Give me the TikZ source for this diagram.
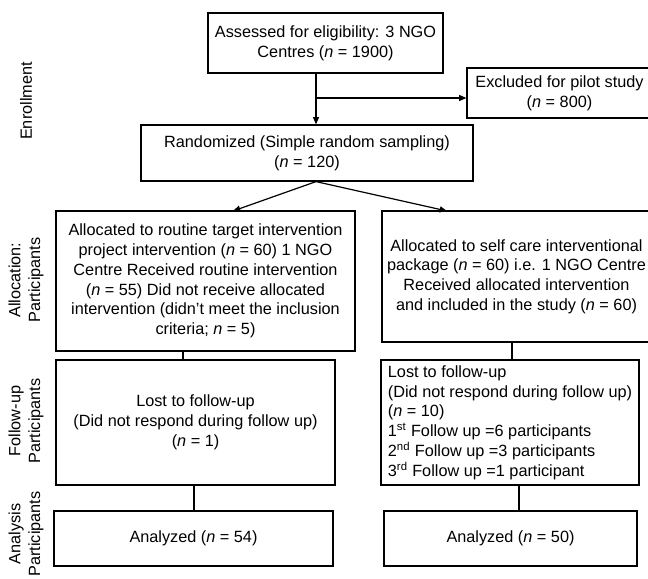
\documentclass[tikz,border=0pt]{standalone}
\usepackage{fontspec}
\setmainfont{Liberation Sans}
\usetikzlibrary{arrows.meta}
\tikzset{
  bx/.style={draw, line width=0.9pt, inner sep=0pt, align=center,
    font=\fontsize{12.2}{14.8}\selectfont},
  lbl/.style={rotate=90, inner sep=0pt, align=center,
    font=\fontsize{12.2}{14.8}\selectfont},
  conn/.style={line width=0.9pt},
  arr/.style={line width=0.9pt, -{Triangle[length=5.5pt,width=4.5pt]}}
}
\begin{document}
\begin{tikzpicture}[x=0.75pt,y=-0.75pt]
\useasboundingbox (0,0) rectangle (648,578);
% boxes
\node[bx, minimum width=235*0.75pt, minimum height=60*0.75pt] (A) at (325.5,43)
  {Assessed for eligibility: 3 NGO\\Centres (\textit{n} = 1900)};
\node[bx, minimum width=185*0.75pt, minimum height=50*0.75pt] (Ex) at (559.5,93)
  {Excluded for pilot study\\(\textit{n} = 800)};
\node[bx, minimum width=332*0.75pt, minimum height=56*0.75pt] (R) at (307,153)
  {Randomized (Simple random sampling)\\(\textit{n} = 120)};
\node[bx, minimum width=299*0.75pt, minimum height=140*0.75pt] (LA) at (205.5,281)
  {Allocated to routine target intervention\\project intervention (\textit{n} = 60) 1 NGO\\Centre Received routine intervention\\(\textit{n} = 55) Did not receive allocated\\intervention (didn’t meet the inclusion\\criteria; \textit{n} = 5)};
\node[bx, minimum width=269*0.75pt, minimum height=131*0.75pt] (RA) at (516.5,276.5)
  {Allocated to self care interventional\\package (\textit{n} = 60) i.e. 1 NGO Centre\\Received allocated intervention\\and included in the study (\textit{n} = 60)};
\node[bx, minimum width=279*0.75pt, minimum height=125*0.75pt] (LF) at (195.5,422.5)
  {Lost to follow-up\\(Did not respond during follow up)\\(\textit{n} = 1)};
\node[bx, align=left, minimum width=258*0.75pt, minimum height=125*0.75pt] (RF) at (510,422.5)
  {Lost to follow-up\\(Did not respond during follow up)\\(\textit{n} = 10)\\1\textsuperscript{st} Follow up =6 participants\\2\textsuperscript{nd} Follow up =3 participants\\3\textsuperscript{rd} Follow up =1 participant};
\node[bx, minimum width=279*0.75pt, minimum height=55*0.75pt] (LN) at (193.5,538.5)
  {Analyzed (\textit{n} = 54)};
\node[bx, minimum width=253*0.75pt, minimum height=55*0.75pt] (RN) at (510.5,538.5)
  {Analyzed (\textit{n} = 50)};
% side labels
\node[lbl] (l1) at (26,101) {Enrollment};
\node[lbl] (l2) at (26,280) {Allocation:\\Participants};
\node[lbl] (l3) at (26,421) {Follow-up\\Participants};
\node[lbl] (l4) at (26,534) {Analysis\\Participants};
% helper coordinates
\coordinate (c1) at (316,98);
\coordinate (tl) at (233,211);
\coordinate (tr) at (447,211);
\coordinate (k1) at (183,0);
\coordinate (k2) at (512,0);
\coordinate (k3) at (194,0);
\coordinate (k4) at (519,0);
% connectors
\draw[arr] (c1 |- A.south) -- (c1 |- R.north);
\draw[arr] (c1) -- (Ex.west |- c1);
\draw[arr] (c1 |- R.south) -- (tl);
\draw[arr] (c1 |- R.south) -- (tr);
\draw[conn] (k1 |- LA.south) -- (k1 |- LF.north);
\draw[conn] (k2 |- RA.south) -- (k2 |- RF.north);
\draw[conn] (k3 |- LF.south) -- (k3 |- LN.north);
\draw[conn] (k4 |- RF.south) -- (k4 |- RN.north);
\end{tikzpicture}
\end{document}
